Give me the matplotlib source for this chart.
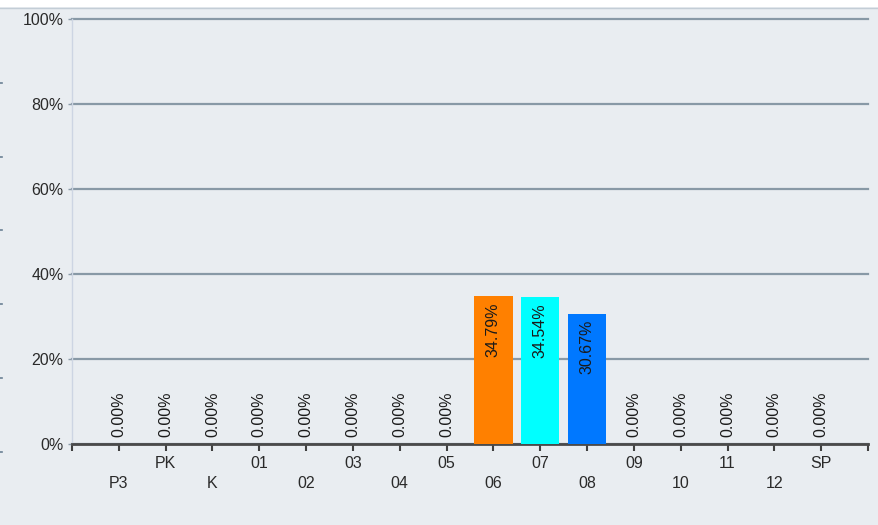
import numpy as np
import matplotlib.pyplot as plt
from matplotlib.lines import Line2D

plt.rcParams['font.family'] = ['Liberation Sans', 'DejaVu Sans']

categories = ["P3", "PK", "K", "01", "02", "03", "04", "05", "06", "07", "08", "09", "10", "11", "12", "SP"]
values = [0, 0, 0, 0, 0, 0, 0, 0, 34.79, 34.54, 30.67, 0, 0, 0, 0, 0]
bar_colors = ["#FF8000" if c == "06" else "#00FFFF" if c == "07" else "#0078FF" if c == "08" else "#FF8000"
              for c in categories]

bg = "#E9EDF1"
fig = plt.figure(figsize=(8.79, 5.25), dpi=100, facecolor=bg)
# white strip at the top
fig.add_artist(plt.Rectangle((0, 1 - 7 / 525), 1, 7 / 525, transform=fig.transFigure,
                             facecolor="white", edgecolor="none"))
fig.add_artist(Line2D([0, 1], [1 - 7.5 / 525] * 2, transform=fig.transFigure, color="#C3CDD6", lw=1))
# little marks on the left border
for yy in [83, 157, 230, 304, 378, 452]:
    fig.add_artist(Line2D([0, 2 / 879], [1 - yy / 525] * 2, transform=fig.transFigure,
                          color="#6A8094", lw=1.2))

ax = fig.add_axes([72 / 879, 81 / 525, 796 / 879, 425 / 525])
ax.set_facecolor(bg)

x = np.arange(len(categories))
ax.bar(x, values, width=0.82, color=bar_colors, edgecolor="none", zorder=3)

fs = 11.5
for xi, v in zip(x, values):
    txt = "%.2f%%" % v
    if v > 5:
        ax.annotate(txt, (xi, v), xytext=(0, -4.5), textcoords="offset points",
                    rotation=90, ha="center", va="top", fontsize=fs, color="#1A1A1A", zorder=4)
    else:
        ax.annotate(txt, (xi, v), xytext=(0, 5), textcoords="offset points",
                    rotation=90, ha="center", va="bottom", fontsize=fs, color="#1A1A1A", zorder=4)

ax.set_xlim(-1, 16)
ax.set_ylim(0, 100)

ticklabels = [""] + [c if i % 2 == 1 else "\n" + c for i, c in enumerate(categories)] + [""]
ax.set_xticks(np.arange(-1, 17))
ax.set_xticklabels(ticklabels, fontsize=fs, color="#2A2A2A", linespacing=1.35)
ax.tick_params(axis="x", length=5, width=1.5, color="#404040", pad=4)

yt = [0, 20, 40, 60, 80, 100]
ax.set_yticks(yt)
ax.set_yticklabels(["%d%%" % t for t in yt], fontsize=fs, color="#2A2A2A")
ax.tick_params(axis="y", length=3, width=1, color="#8A9AA8", pad=3)

ax.grid(axis="y", color="#8899A6", lw=1.6, zorder=1)
for gl in ax.get_ygridlines():
    gl.set_clip_on(False)
ax.set_axisbelow(True)

for s in ["top", "right"]:
    ax.spines[s].set_visible(False)
ax.spines["left"].set_color("#CDD5E3")
ax.spines["left"].set_linewidth(1)
ax.spines["bottom"].set_color("#4A4A4A")
ax.spines["bottom"].set_linewidth(2)

plt.savefig("out.png", dpi=100, facecolor=bg)
